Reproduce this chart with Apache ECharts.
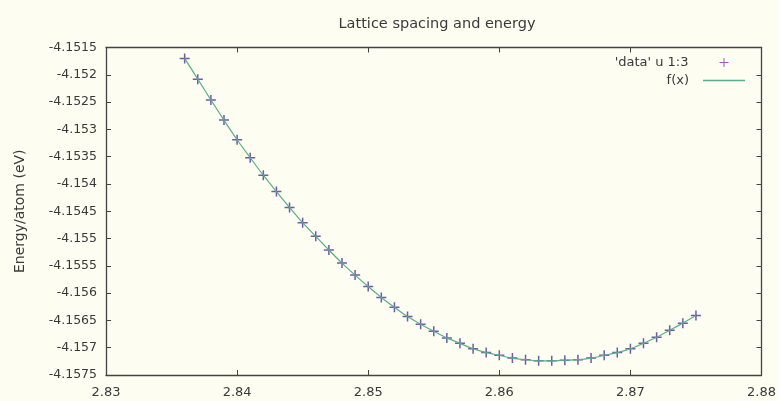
<!DOCTYPE html>
<html>
<head>
<meta charset="utf-8">
<script src="https://cdn.jsdelivr.net/npm/echarts@6/dist/echarts.min.js"></script>
<style>
html,body{margin:0;padding:0;background:#fdfdf2;}
#c{width:779px;height:401px;}
</style>
</head>
<body>
<div id="c"></div>
<script>
// Lattice spacing (x) values
const spacing = [2.836,2.837,2.838,2.839,2.840,2.841,2.842,2.843,2.844,2.845,
  2.846,2.847,2.848,2.849,2.850,2.851,2.852,2.853,2.854,2.855,
  2.856,2.857,2.858,2.859,2.860,2.861,2.862,2.863,2.864,2.865,
  2.866,2.867,2.868,2.869,2.870,2.871,2.872,2.873,2.874,2.875];
// Energy per atom (eV)
const energy = [-4.15170,-4.15208,-4.15246,-4.15283,-4.15319,-4.15352,-4.15384,-4.15414,-4.15443,-4.15471,
  -4.15496,-4.15521,-4.15545,-4.15567,-4.15588,-4.15608,-4.15626,-4.15643,-4.15657,-4.15670,
  -4.15682,-4.15692,-4.15702,-4.15709,-4.15714,-4.15719,-4.15722,-4.15724,-4.15724,-4.15723,
  -4.15722,-4.15719,-4.15714,-4.15709,-4.15702,-4.15692,-4.15681,-4.15668,-4.15655,-4.15641];
// Fitted curve f(x) sampled at the same spacings
const fitX = spacing;
const fitY = energy;

const xTicks = ['2.83','2.84','2.85','2.86','2.87','2.88'];
const yTicks = ['-4.1575','-4.157','-4.1565','-4.156','-4.1555','-4.155','-4.1545','-4.154','-4.1535','-4.153','-4.1525','-4.152','-4.1515'];

const xMin = 2.83, xMax = 2.88, xStep = 0.01;
const yMin = -4.1575, yMax = -4.1515, yStep = 0.0005;

const FONT = 'DejaVu Sans';
const TXT = '#3a3a3a';
const AX = '#444';
const PLUS = 'path://M4.25,0h1.5v4.25h4.25v1.5h-4.25v4.25h-1.5v-4.25h-4.25v-1.5h4.25z';
const PLUS_THIN = 'path://M4,0h1v4h4v1h-4v4h-1v-4h-4v-1h4z';
const LINE_ICON = 'path://M0,0h42v1.4h-42z';

const chart = echarts.init(document.getElementById('c'), null, {renderer:'canvas'});

function fmtX(v){ const i = Math.round((v - xMin)/xStep); return xTicks[i] !== undefined ? xTicks[i] : ''; }
function fmtY(v){ const i = Math.round((v - yMin)/yStep); return yTicks[i] !== undefined ? yTicks[i] : ''; }

const axisBase = {
  type:'value',
  axisLine:{show:true, onZero:false, lineStyle:{color:AX, width:1.3}},
  axisTick:{show:true, inside:true, length:5, lineStyle:{color:AX, width:1}},
  splitLine:{show:false}
};

chart.setOption({
  backgroundColor:'#fdfdf2',
  animation:false,
  textStyle:{fontFamily:FONT},
  title:{
    text:'Lattice spacing and energy',
    left:432, top:12, textAlign:'center',
    textStyle:{fontFamily:FONT, fontSize:14.5, fontWeight:'normal', color:TXT}
  },
  grid:{left:106, right:17.5, top:47.5, bottom:26, containLabel:false},
  legend:[
    {
      data:[{name:"'data' u 1:3", icon:PLUS_THIN, itemStyle:{color:'#9b45b5'}}],
      right:50.5, top:56, orient:'vertical', align:'right', padding:0,
      itemWidth:9, itemHeight:14, symbolKeepAspect:true,
      selectedMode:false,
      textStyle:{fontFamily:FONT, fontSize:13, color:TXT, padding:[0,26,0,0]}
    },
    {
      data:[{name:'f(x)', icon:LINE_ICON, itemStyle:{color:'#5aae8c'}}],
      right:34, top:74, orient:'vertical', align:'right', padding:0,
      itemWidth:42, itemHeight:14, symbolKeepAspect:true,
      selectedMode:false,
      textStyle:{fontFamily:FONT, fontSize:13, color:TXT, padding:[0,9,0,0]}
    }
  ],
  xAxis:[
    Object.assign({}, axisBase, {
      position:'bottom', min:xMin, max:xMax, interval:xStep,
      axisLabel:{show:true, margin:11, color:TXT, fontSize:13, fontFamily:FONT, formatter:fmtX}
    }),
    Object.assign({}, axisBase, {
      position:'top', min:xMin, max:xMax, interval:xStep,
      axisLabel:{show:false}
    })
  ],
  yAxis:[
    Object.assign({}, axisBase, {
      position:'left', min:yMin, max:yMax, interval:yStep,
      name:'Energy/atom (eV)', nameLocation:'middle', nameGap:79, nameRotate:90,
      nameTextStyle:{fontFamily:FONT, fontSize:14, color:TXT},
      axisLabel:{show:true, margin:9, color:TXT, fontSize:12.5, fontFamily:FONT, formatter:fmtY}
    }),
    Object.assign({}, axisBase, {
      position:'right', min:yMin, max:yMax, interval:yStep,
      axisLabel:{show:false}
    })
  ],
  series:[
    {
      name:"'data' u 1:3",
      type:'scatter',
      xAxisIndex:0, yAxisIndex:0,
      data:spacing.map((x,i)=>[x, energy[i]]),
      symbol:PLUS, symbolSize:10,
      itemStyle:{color:'#5d4aa0', opacity:0.9},
      z:2
    },
    {
      name:'f(x)',
      type:'line',
      xAxisIndex:0, yAxisIndex:0,
      data:fitX.map((x,i)=>[x, fitY[i]]),
      smooth:0.3,
      symbol:'none',
      lineStyle:{color:'#5aae8c', width:1.2},
      itemStyle:{color:'#5aae8c'},
      z:3
    }
  ]
});
</script>
</body>
</html>
